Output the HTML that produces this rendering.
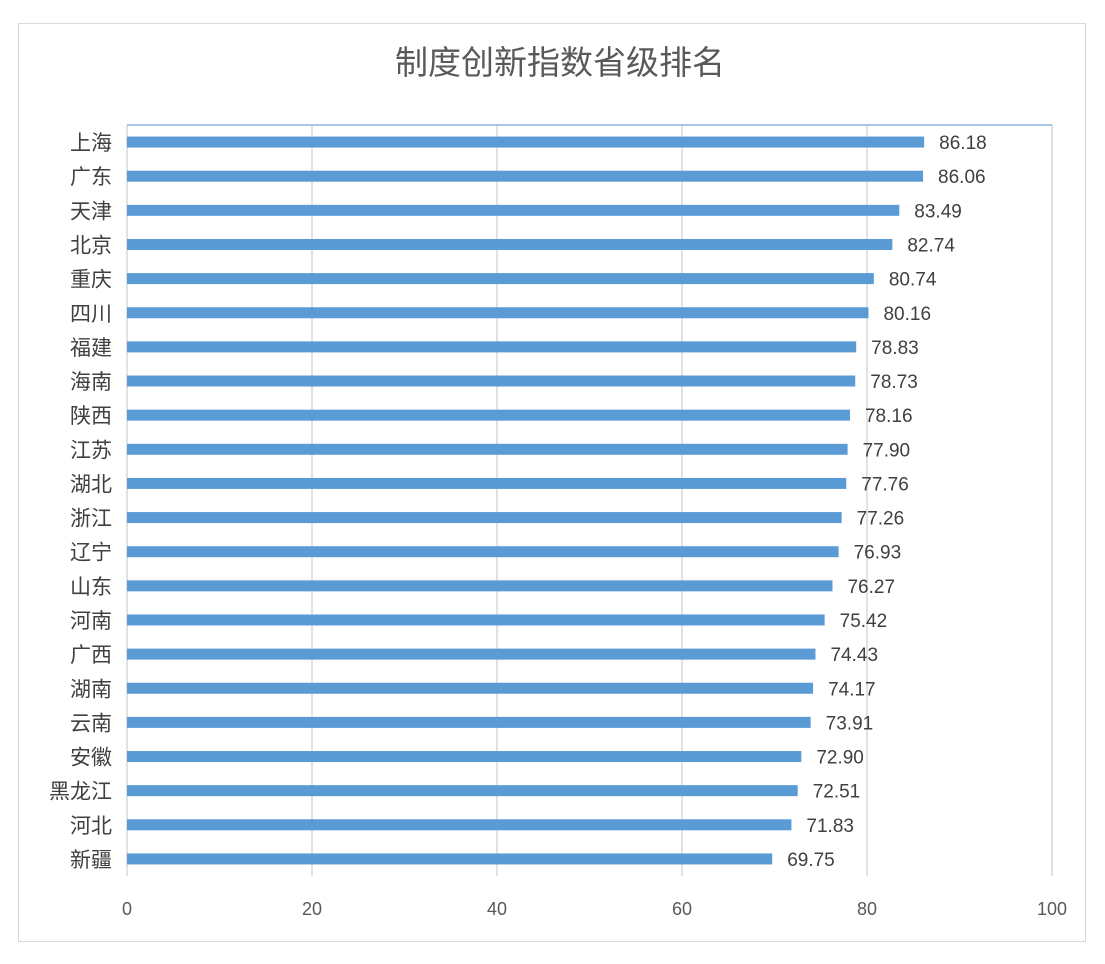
<!DOCTYPE html>
<html><head><meta charset="utf-8"><style>
body{margin:0;background:#fff;}
svg text{font-family:"Liberation Sans","Noto Sans CJK SC",sans-serif;}
</style></head><body>
<svg id="chart" width="1105" height="959" xmlns="http://www.w3.org/2000/svg">
<rect x="18.5" y="23.5" width="1067" height="918" fill="#fff" stroke="#d9d9d9"/>
<text x="560" y="74" text-anchor="middle" font-size="33" fill="#595959">制度创新指数省级排名</text>
<g id="grid"></g><g id="bars"></g><g id="labels"></g>
</svg>
<script>
const categories=["上海","广东","天津","北京","重庆","四川","福建","海南","陕西","江苏","湖北","浙江","辽宁","山东","河南","广西","湖南","云南","安徽","黑龙江","河北","新疆"];
const values=[86.18,86.06,83.49,82.74,80.74,80.16,78.83,78.73,78.16,77.90,77.76,77.26,76.93,76.27,75.42,74.43,74.17,73.91,72.90,72.51,71.83,69.75];
const ticks=[0,20,40,60,80,100];
const NS="http://www.w3.org/2000/svg";
const plotLeft=127,plotRight=1052,plotTop=125,plotBottom=876;
const xs=v=>plotLeft+(v-0)/(100-0)*(plotRight-plotLeft);
const step=(plotBottom-plotTop)/categories.length;
const ys=i=>plotTop+step*(i+0.5);
function mk(tag,attrs,parent){const e=document.createElementNS(NS,tag);for(const k in attrs)e.setAttribute(k,attrs[k]);document.getElementById(parent).appendChild(e);return e;}
ticks.forEach(t=>{
  const l=mk('line',{x1:xs(t),x2:xs(t),y1:plotTop,y2:plotBottom,stroke:'#d9d9d9','stroke-width':1.5},'grid');
  
  
  const tx=mk('text',{x:xs(t),y:915,'text-anchor':'middle','font-size':18,fill:'#595959'},'labels');
  tx.textContent=t;
  
  
});
const tl=mk('line',{x1:plotLeft,x2:plotRight,y1:plotTop,y2:plotTop,stroke:'#8db3e2','stroke-width':1.5},'grid');


categories.forEach((c,i)=>{
  const y=ys(i);
  const r=mk('rect',{x:plotLeft,y:y-5.5,width:xs(values[i])-plotLeft,height:11,fill:'#5b9bd5'},'bars');
  
  
  const cl=mk('text',{x:112,y:y+8,'text-anchor':'end','font-size':21,fill:'#404040'},'labels');
  cl.textContent=c;
  
  
  const vl=mk('text',{x:xs(values[i])+15,y:y+7,'font-size':19,fill:'#404040'},'labels');
  vl.textContent=values[i].toFixed(2);
  
  
});
</script>
</body></html>
